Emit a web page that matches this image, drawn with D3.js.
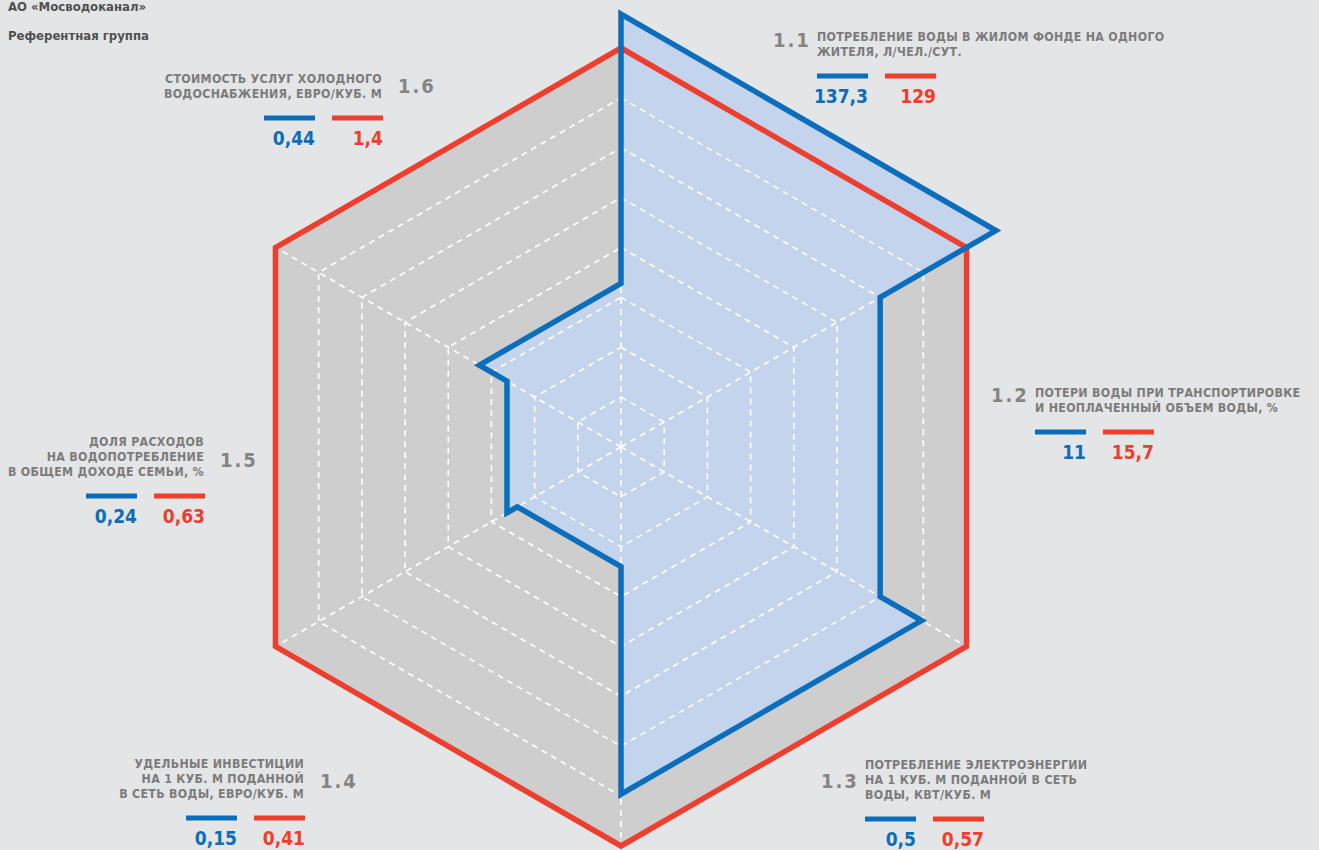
<!DOCTYPE html>
<html>
<head>
<meta charset="utf-8">
<script src="https://cdn.jsdelivr.net/npm/d3@7"></script>
<style>
  html, body { margin: 0; padding: 0; background: #e4e5e7; }
  svg { display: block; font-family: "DejaVu Sans Condensed", "DejaVu Sans", sans-serif; font-stretch: condensed; font-weight: bold; }
  .grid { fill: none; stroke: #fff; stroke-width: 1.6; stroke-dasharray: 6 5; }
  .title { fill: #7b7b7b; font-size: 12.3px; letter-spacing: 0.3px; }
  .num { fill: #858585; font-size: 20px; letter-spacing: 2px; }
  .val { font-size: 19px; }
  .legend { fill: #505050; font-size: 13px; }
</style>
</head>
<body>
<div id="chart"></div>
<script>
var sections = ['1.1', '1.2', '1.3', '1.4', '1.5', '1.6'];
var titles = [
  ['ПОТРЕБЛЕНИЕ ВОДЫ В ЖИЛОМ ФОНДЕ НА ОДНОГО', 'ЖИТЕЛЯ, Л/ЧЕЛ./СУТ.'],
  ['ПОТЕРИ ВОДЫ ПРИ ТРАНСПОРТИРОВКЕ', 'И НЕОПЛАЧЕННЫЙ ОБЪЕМ ВОДЫ, %'],
  ['ПОТРЕБЛЕНИЕ ЭЛЕКТРОЭНЕРГИИ', 'НА 1 КУБ. М ПОДАННОЙ В СЕТЬ', 'ВОДЫ, КВТ/КУБ. М'],
  ['УДЕЛЬНЫЕ ИНВЕСТИЦИИ', 'НА 1 КУБ. М ПОДАННОЙ', 'В СЕТЬ ВОДЫ, ЕВРО/КУБ. М'],
  ['ДОЛЯ РАСХОДОВ', 'НА ВОДОПОТРЕБЛЕНИЕ', 'В ОБЩЕМ ДОХОДЕ СЕМЬИ, %'],
  ['СТОИМОСТЬ УСЛУГ ХОЛОДНОГО', 'ВОДОСНАБЖЕНИЯ, ЕВРО/КУБ. М']
];
var seriesNames = ['АО «Мосводоканал»', 'Референтная группа'];
var mosvodokanal = [137.3, 11, 0.5, 0.15, 0.24, 0.44];
var referenceGroup = [129, 15.7, 0.57, 0.41, 0.63, 1.4];
// plotted level of each sector, reference group = 100
var mosvodokanalIndex = [108.5, 75, 87, 30, 33, 41];
var referenceIndex = [100, 100, 100, 100, 100, 100];
var gridLevels = [12.5, 25, 37.5, 50, 62.5, 75, 87.5, 100];

var width = 1319, height = 850;
var cx = 621, cy = 447, R = 399;
var blue = '#0a6ebd', red = '#ee3e2d';

var layout = [
  { side: 'right', x: 817, y: 41, numDy: 6 },
  { side: 'right', x: 1035, y: 397, numDy: 5 },
  { side: 'right', x: 865, y: 769, numDy: 19 },
  { side: 'left', x: 304, y: 768, numDy: 20 },
  { side: 'left', x: 204, y: 446, numDy: 21 },
  { side: 'left', x: 382, y: 83, numDy: 10 }
];

var svg = d3.select('#chart').append('svg')
  .attr('width', width)
  .attr('height', height);

var r = d3.scaleLinear().domain([0, 100]).range([0, R]);
// spokes: top, upper right, lower right, bottom, lower left, upper left
var angle = d3.scaleLinear().domain([0, 6]).range([-Math.PI / 2, 1.5 * Math.PI]);
var fmt = function(v) { return d3.format('~g')(v).replace('.', ','); };

function pt(k, v) {
  var a = angle(k % 6);
  return [cx + r(v) * Math.cos(a), cy + r(v) * Math.sin(a)];
}

// each sector spans two spokes; the level is drawn parallel to the outer edge
function sectorPath(levels) {
  var pts = [];
  levels.forEach(function(v, i) {
    pts.push(pt(i, v));
    pts.push(pt(i + 1, v));
  });
  return d3.line()(pts) + 'Z';
}

var plot = svg.append('g');

plot.append('path')
  .attr('d', sectorPath(referenceIndex))
  .attr('fill', '#cecece');

plot.append('path')
  .attr('d', sectorPath(mosvodokanalIndex))
  .attr('fill', '#c4d4ec');

plot.selectAll('.ring')
  .data(gridLevels.slice(0, -1))
  .enter().append('path')
  .attr('class', 'grid ring')
  .attr('d', function(v) {
    return d3.line()(d3.range(6).map(function(k) { return pt(k, v); })) + 'Z';
  });

plot.selectAll('.spoke')
  .data(d3.range(6))
  .enter().append('line')
  .attr('class', 'grid spoke')
  .attr('x1', cx).attr('y1', cy)
  .attr('x2', function(k) { return pt(k, 100)[0]; })
  .attr('y2', function(k) { return pt(k, 100)[1]; });

plot.append('path')
  .attr('d', sectorPath(referenceIndex))
  .attr('fill', 'none')
  .attr('stroke', red)
  .attr('stroke-width', 5.5)
  .attr('stroke-linejoin', 'miter');

plot.append('path')
  .attr('d', sectorPath(mosvodokanalIndex))
  .attr('fill', 'none')
  .attr('stroke', blue)
  .attr('stroke-width', 5.5)
  .attr('stroke-linejoin', 'miter');

var labels = svg.selectAll('.label')
  .data(sections)
  .enter().append('g')
  .attr('class', 'label');

labels.each(function(s, i) {
  var g = d3.select(this);
  var L = layout[i];
  var right = L.side === 'right';
  var lines = titles[i];

  g.selectAll('.title')
    .data(lines)
    .enter().append('text')
    .attr('class', 'title')
    .attr('x', L.x)
    .attr('y', function(d, j) { return L.y + j * 15; })
    .attr('text-anchor', right ? 'start' : 'end')
    .text(function(d) { return d; });

  g.append('text')
    .attr('class', 'num')
    .attr('x', right ? L.x - 44 : L.x + 16)
    .attr('y', L.y + L.numDy)
    .text(s);

  var barY = L.y + (lines.length - 1) * 15 + 20;
  var x0 = right ? L.x : L.x - 118;
  var items = [
    { v: mosvodokanal[i], c: blue, x: x0 },
    { v: referenceGroup[i], c: red, x: x0 + 68 }
  ];
  items.forEach(function(it) {
    g.append('rect')
      .attr('x', it.x).attr('y', barY - 2.5)
      .attr('width', 51).attr('height', 5)
      .attr('fill', it.c);
    g.append('text')
      .attr('class', 'val')
      .attr('x', it.x + 51)
      .attr('y', barY + 27)
      .attr('text-anchor', 'end')
      .attr('fill', it.c)
      .text(fmt(it.v));
  });
});

svg.selectAll('.legend')
  .data(seriesNames)
  .enter().append('text')
  .attr('class', 'legend')
  .attr('x', 8)
  .attr('y', function(d, i) { return 11 + i * 29; })
  .text(function(d) { return d; });
</script>
</body>
</html>
